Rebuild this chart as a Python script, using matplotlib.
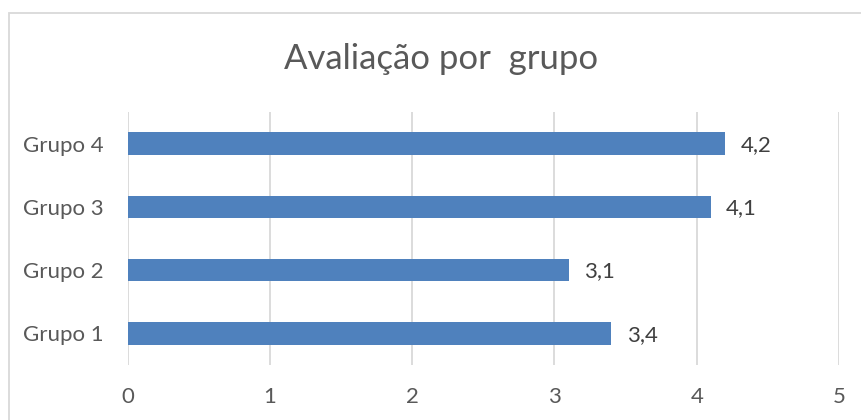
import matplotlib.pyplot as plt
from matplotlib.patches import Rectangle

# chart data
grupos = ['Grupo 1', 'Grupo 2', 'Grupo 3', 'Grupo 4']
notas = [3.4, 3.1, 4.1, 4.2]
rotulos = ['3,4', '3,1', '4,1', '4,2']
ticks_x = [0, 1, 2, 3, 4, 5]

plt.rcParams['font.family'] = ['Lato', 'DejaVu Sans']

fig = plt.figure(figsize=(8.61, 4.2), dpi=100)
ax = fig.add_axes([0.1483, 0.131, 0.8261, 0.6024])

# light grey chart border (cropped on right and bottom)
fig.patches.append(Rectangle((9 / 861, -0.1), 1.2, (420 - 13) / 420 + 0.1,
                             transform=fig.transFigure, fill=False,
                             edgecolor='#d9d9d9', linewidth=1.3))

ax.barh(range(len(grupos)), notas, height=0.354, color='#4f81bd', zorder=3)

for i, (v, txt) in enumerate(zip(notas, rotulos)):
    ax.annotate(txt, (v, i), xytext=(11, -1), textcoords='offset points',
                va='center', ha='left', fontsize=16, color='#404040')

ax.set_xlim(0, 5)
ax.set_ylim(-0.5, len(grupos) - 0.5)
ax.set_xticks(ticks_x)
ax.set_xticklabels([str(t) for t in ticks_x])
ax.set_yticks(range(len(grupos)))
ax.set_yticklabels(grupos)
ax.grid(axis='x', color='#d9d9d9', linewidth=1.3, zorder=0)
for s in ax.spines.values():
    s.set_visible(False)
ax.tick_params(axis='both', length=0, labelsize=16, labelcolor='#595959')
ax.tick_params(axis='y', pad=17)
ax.tick_params(axis='x', pad=16)

fig.text(441 / 861, 1 - 59 / 420, 'Avaliação por  grupo', ha='center', va='center',
         fontsize=25, color='#595959')

fig.savefig('out.png', dpi=100)
